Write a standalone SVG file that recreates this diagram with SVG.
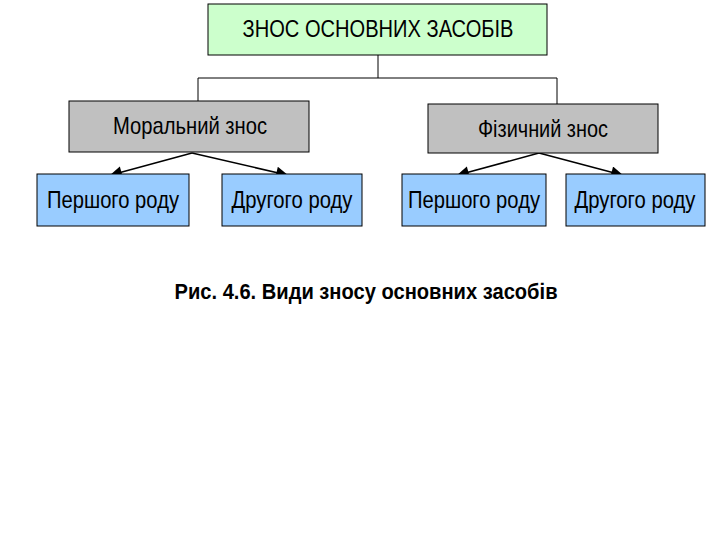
<svg xmlns="http://www.w3.org/2000/svg" width="720" height="540" viewBox="0 0 720 540">
<style>
.box{stroke:#000;stroke-width:1}
.g{fill:#ccffcc}.gr{fill:#c0c0c0}.b{fill:#99ccff}
text{font-family:"Liberation Sans Narrow","Liberation Sans",Arial,sans-serif;font-size:24px;fill:#000;text-anchor:middle}
.cap{font-weight:bold;font-size:22px}
.ln{stroke:#000;stroke-width:1;fill:none}
.ar{stroke:#000;stroke-width:1.5;fill:none;marker-end:url(#ah)}
</style>
<defs>
<marker id="ah" viewBox="0 0 10 10" refX="9" refY="5" markerWidth="18" markerHeight="12" markerUnits="userSpaceOnUse" orient="auto">
<path d="M0,0 L10,5 L0,10 Z" fill="#000"/>
</marker>
</defs>
<rect width="720" height="540" fill="#fff"/>
<g id="connectors">
<path class="ln" d="M378,55 V78 M198,78 H557 M198,78 V101 M557,78 V104"/>
<path class="ar" d="M192,153 L111,175"/>
<path class="ar" d="M192,153 L287,175"/>
<path class="ar" d="M539,153 L458,175"/>
<path class="ar" d="M539,153 L622,175"/>
</g>
<g id="root"><rect class="box g" x="208" y="4" width="339" height="51"/><text x="378" y="37" textLength="271" lengthAdjust="spacingAndGlyphs">ЗНОС ОСНОВНИХ ЗАСОБІВ</text></g>
<g id="moral"><rect class="box gr" x="69" y="101" width="240" height="51"/><text x="190" y="134" textLength="154" lengthAdjust="spacingAndGlyphs">Моральний знос</text></g>
<g id="phys"><rect class="box gr" x="428" y="104" width="230" height="49"/><text x="543" y="137" textLength="130" lengthAdjust="spacingAndGlyphs">Фізичний знос</text></g>
<g id="m1"><rect class="box b" x="37" y="174" width="152" height="52"/><text x="113" y="208" textLength="132" lengthAdjust="spacingAndGlyphs">Першого роду</text></g>
<g id="m2"><rect class="box b" x="222" y="174" width="140" height="52"/><text x="292" y="208" textLength="121" lengthAdjust="spacingAndGlyphs">Другого роду</text></g>
<g id="p1"><rect class="box b" x="402" y="174" width="144" height="52"/><text x="474" y="208" textLength="132" lengthAdjust="spacingAndGlyphs">Першого роду</text></g>
<g id="p2"><rect class="box b" x="566" y="174" width="139" height="52"/><text x="635" y="208" textLength="121" lengthAdjust="spacingAndGlyphs">Другого роду</text></g>
<text class="cap" x="366" y="299" textLength="383" lengthAdjust="spacingAndGlyphs">Рис. 4.6. Види зносу основних засобів</text>
</svg>
